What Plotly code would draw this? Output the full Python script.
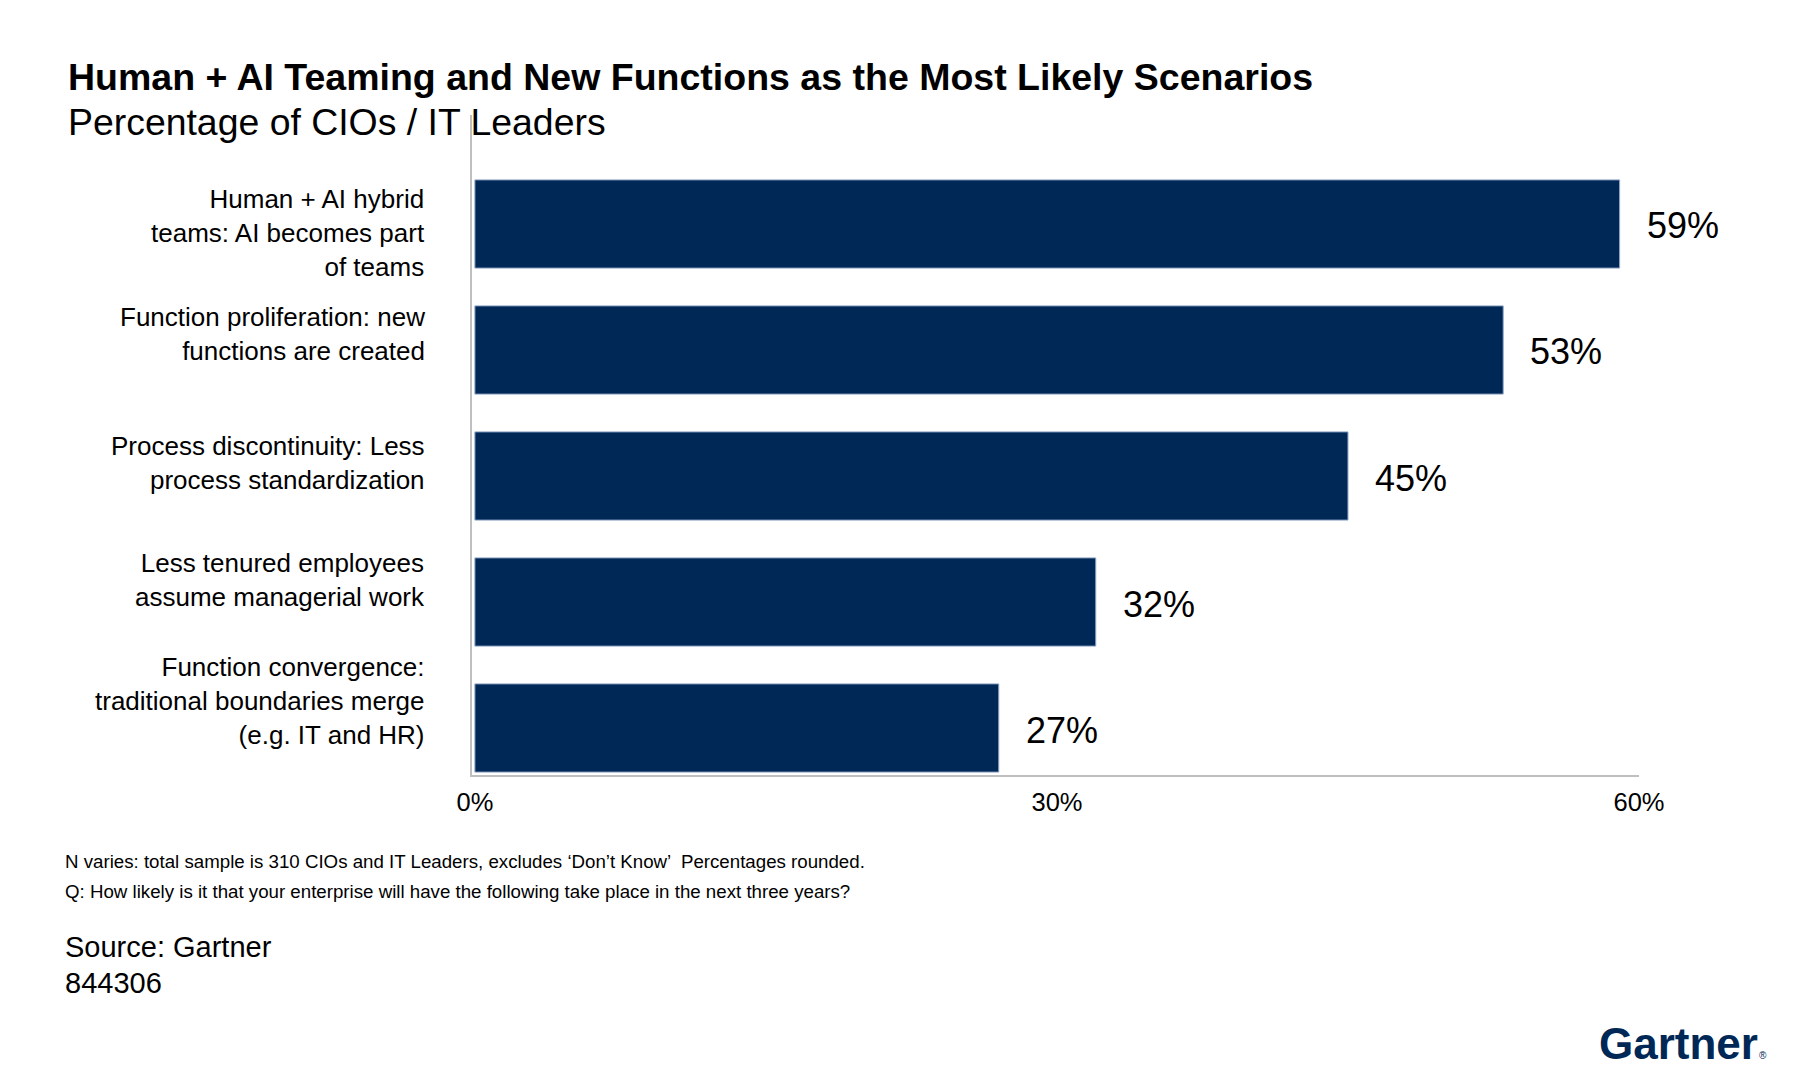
import plotly.graph_objects as go

# ---- data ----
categories = [
    "Human + AI hybrid<br>teams: AI becomes part<br>of teams",
    "Function proliferation: new<br>functions are created",
    "Process discontinuity: Less<br>process standardization",
    "Less tenured employees<br>assume managerial work",
    "Function convergence:<br>traditional boundaries merge<br>(e.g. IT and HR)",
]
values = [59, 53, 45, 32, 27]
x_tick_vals = [0, 30, 60]
x_tick_text = ["0%", "30%", "60%"]

title = "<b>Human + AI Teaming and New Functions as the Most Likely Scenarios</b>"
subtitle = "Percentage of CIOs / IT Leaders"
note1 = "N varies: total sample is 310 CIOs and IT Leaders, excludes \u2018Don\u2019t Know\u2019  Percentages rounded."
note2 = "Q: How likely is it that your enterprise will have the following take place in the next three years?"
source1 = "Source: Gartner"
source2 = "844306"

# ---- styling ----
FONT = "Liberation Sans, Arial, Helvetica, sans-serif"
NAVY = "#002856"
W, H = 1800, 1079
L, R, T, B = 472, 1639, 115, 775
# vertical nudge of each category label relative to its bar (px, styling only)
label_yshift = [-9, 16, 13, 22, 27]


def px(x):
    return (x - L) / (R - L)


def py(y):
    return (B - y) / (B - T)


fig = go.Figure()
fig.add_trace(go.Bar(
    x=values,
    y=categories,
    orientation="h",
    marker=dict(color=NAVY, line=dict(color="#8FA5C6", width=1)),
    hoverinfo="skip",
))

annotations = []
for c, v, ys in zip(categories, values, label_yshift):
    # value label
    annotations.append(dict(
        x=v, y=c, xref="x", yref="y", text=f"{v}%", showarrow=False,
        xanchor="left", yanchor="middle", xshift=25, yshift=-2,
        font=dict(family=FONT, size=36, color="#000000"),
    ))
    # category label
    annotations.append(dict(
        x=px(427), y=c, xref="paper", yref="y", text=c, showarrow=False,
        xanchor="right", yanchor="middle", align="right", yshift=ys,
        font=dict(family=FONT, size=26, color="#000000"),
    ))


def txt(x, y, text, size, color="#000000", anchor="left"):
    annotations.append(dict(
        x=px(x), y=py(y), xref="paper", yref="paper", text=text,
        showarrow=False, xanchor=anchor, yanchor="middle",
        font=dict(family=FONT, size=size, color=color),
    ))


txt(66, 77, title, 37.5)
txt(66, 122, subtitle, 37.4)
txt(63, 861, note1, 18.7)
txt(63, 891, note2, 18.7)
txt(63, 947, source1, 29)
txt(63, 983, source2, 29)
txt(1597, 1043, "<b>Gartner</b>", 44, NAVY)
txt(1763, 1055, "\u00ae", 10, NAVY, anchor="center")

fig.update_layout(
    width=W, height=H,
    margin=dict(l=L, r=W - R, t=T, b=H - B, pad=0),
    paper_bgcolor="white", plot_bgcolor="white",
    showlegend=False,
    bargap=0.3,
    font=dict(family=FONT, color="#000000"),
    annotations=annotations,
    xaxis=dict(
        range=[-0.15, 60],
        tickvals=x_tick_vals, ticktext=x_tick_text,
        showgrid=False, zeroline=False,
        showline=True, linecolor="#BFBFBF", linewidth=2,
        ticks="", ticklabelstandoff=3,
        tickfont=dict(family=FONT, size=25.5, color="#000000"),
    ),
    yaxis=dict(
        categoryorder="array", categoryarray=categories,
        range=[4.373, -0.865],
        showgrid=False, zeroline=False,
        showline=True, linecolor="#BFBFBF", linewidth=2,
        showticklabels=False, ticks="",
    ),
)

fig.write_html("out.html")
